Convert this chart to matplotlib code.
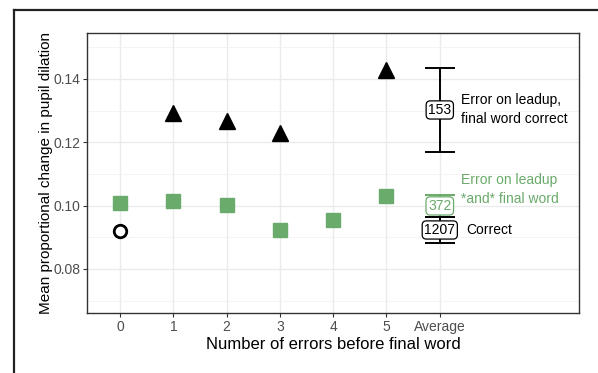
import matplotlib.pyplot as plt
from matplotlib.lines import Line2D

plt.rcParams['font.family'] = ['Liberation Sans', 'DejaVu Sans']

green = "#6AAA6A"

# per number of errors before final word
x_ticks = ["0", "1", "2", "3", "4", "5", "Average"]
tri_x = [1, 2, 3, 5]
tri_y = [0.1291, 0.1268, 0.1230, 0.1428]
sq_x = [0, 1, 2, 3, 4, 5]
sq_y = [0.1008, 0.1015, 0.1002, 0.0923, 0.0956, 0.1031]
circ_x = [0]
circ_y = [0.0921]

# averages with error bars
avg_names = ["153", "372", "1207"]
avg_mean = [0.1302, 0.0999, 0.0923]
avg_err = [0.0133, 0.0034, 0.0041]
avg_colors = ["black", green, "black"]
avg_text = ["Error on leadup,\nfinal word correct", "Error on leadup\n*and* final word", "Correct"]
avg_text_y = [0.1302, 0.1050, 0.0922]
avg_text_x = [6.4, 6.4, 6.5]

fig = plt.figure(figsize=(5.98, 3.73), dpi=100)
ax = fig.add_axes([0.1455, 0.161, 0.8225, 0.7505])

ax.set_xlim(-0.62, 8.61)
ax.set_ylim(0.0661, 0.1545)
ax.set_xticks(range(len(x_ticks)))
ax.set_xticklabels(x_ticks)
ax.set_yticks([0.08, 0.10, 0.12, 0.14])
ax.set_yticklabels(["0.08", "0.10", "0.12", "0.14"])
ax.set_yticks([0.07, 0.09, 0.11, 0.13, 0.15], minor=True)
ax.grid(True, which="major", color="#EBEBEB", lw=1.0)
ax.grid(True, which="minor", axis="y", color="#F2F2F2", lw=0.6)
ax.set_axisbelow(True)
for s in ax.spines.values():
    s.set_color("#333333")
    s.set_linewidth(1.0)
ax.tick_params(axis="both", which="major", colors="#333333", labelcolor="#4D4D4D",
               labelsize=10, length=3, width=0.8, pad=2)
ax.tick_params(axis="both", which="minor", length=0)

ax.plot(tri_x, tri_y, "^", color="black", ms=11, lw=0)
ax.plot(sq_x, sq_y, "s", color=green, ms=10, lw=0)
ax.plot(circ_x, circ_y, "o", mfc="white", mec="black", mew=2, ms=9, lw=0)

for i in range(len(avg_names)):
    ax.errorbar(6, avg_mean[i], yerr=avg_err[i], color=avg_colors[i], capsize=11,
                lw=1.4, capthick=1.4, fmt="none")
    ax.text(6, avg_mean[i], avg_names[i], ha="center", va="center", fontsize=10,
            color=avg_colors[i],
            bbox=dict(boxstyle="round,pad=0.15,rounding_size=0.3", fc="white",
                      ec=avg_colors[i], lw=0.9))
    ax.text(avg_text_x[i], avg_text_y[i], avg_text[i], ha="left", va="center",
            fontsize=10, color=avg_colors[i], linespacing=1.45)

ax.set_xlabel("Number of errors before final word", fontsize=12, labelpad=2)
ax.set_ylabel("Mean proportional change in pupil dilation", fontsize=11)
ax.yaxis.set_label_coords(-0.07, 0.5)

# outer frame running off the right and bottom
fig.add_artist(Line2D([14 / 598, 1.0], [1 - 10 / 373, 1 - 10 / 373], color="#222222", lw=1.6))
fig.add_artist(Line2D([14 / 598, 14 / 598], [0.0, 1 - 10 / 373], color="#222222", lw=1.6))

fig.savefig("out.png", dpi=100)
